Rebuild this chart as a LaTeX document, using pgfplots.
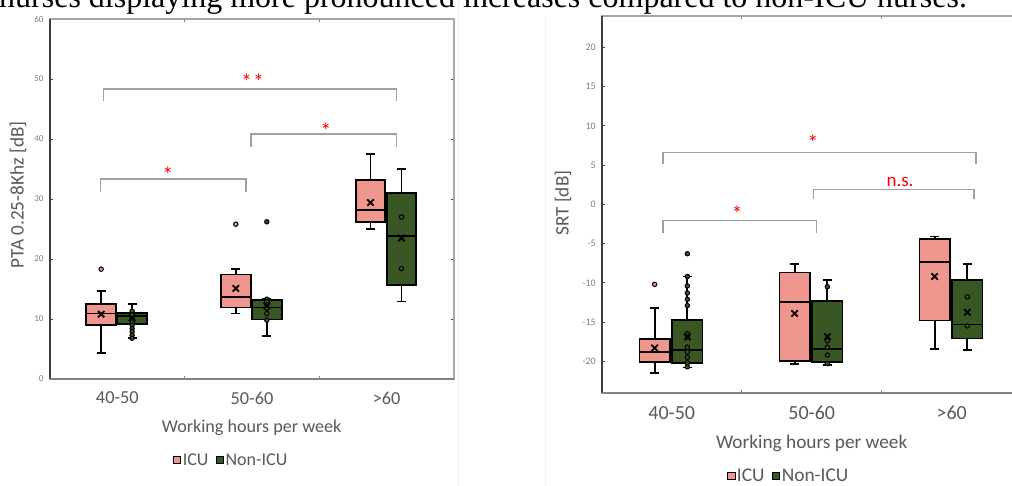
\documentclass[border=0pt]{standalone}
\usepackage{fontspec}
\setmainfont{Carlito}
\newfontfamily\bodyserif{Liberation Serif}
\usepackage{pgfplots}
\pgfplotsset{compat=1.18}

\definecolor{icu}{RGB}{239,150,142}
\definecolor{nonicu}{RGB}{56,87,35}
\definecolor{labelgray}{RGB}{89,89,89}
\definecolor{tickgray}{RGB}{128,128,128}
\definecolor{framegray}{RGB}{166,166,166}
\definecolor{bracketgray}{RGB}{160,160,160}
\definecolor{axisdark}{RGB}{64,64,64}
\definecolor{axismid}{RGB}{130,130,130}

\tikzset{bracket/.style={draw=bracketgray, line width=1.4pt}}
\pgfplotsset{
  boxline/.style={solid, draw=black, line width=1.8pt, mark=none, forget plot},
  icudots/.style={only marks, forget plot, mark=*, mark size=2.2pt,
    mark options={draw=black, fill=icu, line width=1pt}},
  nondots/.style={only marks, forget plot, mark=*, mark size=2.2pt,
    mark options={draw=black, fill=nonicu, line width=1pt}},
  meanx/.style={only marks, forget plot, mark=x, mark size=4.5pt,
    mark options={draw=black, line width=1.8pt}},
  sqlegend/.style={legend image code/.code={
    \draw[##1, line width=0.9pt] (0pt,-3.6pt) rectangle (7.2pt,3.6pt);}},
}

% one box: position, half width, lower whisker, lower quartile, median,
% upper quartile, upper whisker, fill colour
\newcommand{\drawbox}[8]{%
  \pgfmathsetmacro\bxl{#1-#2}%
  \pgfmathsetmacro\bxr{#1+#2}%
  \pgfmathsetmacro\cpl{#1-0.3*#2}%
  \pgfmathsetmacro\cpr{#1+0.3*#2}%
  \addplot[boxline] coordinates {(#1,#3) (#1,#4)};
  \addplot[boxline] coordinates {(#1,#6) (#1,#7)};
  \addplot[boxline] coordinates {(\cpl,#3) (\cpr,#3)};
  \addplot[boxline] coordinates {(\cpl,#7) (\cpr,#7)};
  \addplot[boxline, fill=#8] coordinates {(\bxl,#4) (\bxr,#4) (\bxr,#6) (\bxl,#6)} -- cycle;
  \addplot[boxline] coordinates {(\bxl,#5) (\bxr,#5)};
}

\begin{document}
\begin{tikzpicture}
\path[use as bounding box] (0pt,0pt) rectangle (1012pt,486pt);
\begin{scope}
\clip (0pt,0pt) rectangle (1012pt,486pt);
\fill[white] (0pt,0pt) rectangle (1012pt,486pt);
\draw[gray!12, line width=0.8pt] (458pt,0pt) -- (458pt,486pt);
\draw[gray!12, line width=0.8pt] (545pt,0pt) -- (545pt,470pt);

\node[anchor=base west, inner sep=0pt, font=\bodyserif\fontsize{32}{36}\selectfont]
  at (-1pt,478pt) {nurses displaying more pronounced increases compared to non-ICU nurses.};

% ---------------- left panel: PTA ----------------
\begin{axis}[
  at={(50pt,107pt)}, anchor=south west,
  scale only axis, width=404pt, height=360pt,
  xmin=-0.5, xmax=2.5, ymin=0, ymax=60,
  clip=false,
  axis line style={draw=framegray, line width=1.2pt},
  xtick={0,1,2}, xticklabels={40-50,50-60,>60},
  x tick style={draw=none},
  extra x ticks={0.5,1.5}, extra x tick labels={},
  extra x tick style={x tick style={draw=axismid, line width=0.8pt}},
  ytick={0,10,20,30,40,50,60},
  yticklabels={0,10,20,30,40,50,60},
  y tick style={draw=axisdark, line width=0.6pt},
  tick align=inside, major tick length=3pt,
  xticklabel style={font=\fontsize{18.3}{20}\selectfont, text=labelgray, anchor=center, yshift=-19pt},
  yticklabel style={font=\fontsize{9}{10}\selectfont, text=tickgray, xshift=-3pt},
  xlabel={Working hours per week},
  xlabel style={at={(axis description cs:0.499,-0.136)}, anchor=center,
    font=\fontsize{18.1}{20}\selectfont, text=labelgray},
  ylabel={PTA 0.25-8Khz [dB]},
  ylabel style={at={(axis description cs:-0.079,0.511)}, anchor=center,
    font=\fontsize{19.2}{21}\selectfont, text=labelgray},
  sqlegend,
  legend columns=2,
  legend style={at={(axis description cs:0.448,-0.225)}, anchor=center,
    draw=none, fill=none, font=\fontsize{18}{20}\selectfont, text=labelgray,
    /tikz/every even column/.append style={column sep=6pt},
    inner sep=0pt, nodes={inner sep=1.5pt}},
]
\addlegendimage{draw=black, fill=icu}
\addlegendentry{ICU}
\addlegendimage{draw=black, fill=nonicu}
\addlegendentry{Non-ICU}

% ICU boxes
\drawbox{-0.12}{0.11}{4.3}{9.0}{10.9}{12.5}{14.6}{icu}
\drawbox{0.88}{0.11}{10.9}{11.9}{13.6}{17.4}{18.3}{icu}
\drawbox{1.88}{0.11}{25.0}{26.2}{28.2}{33.1}{37.5}{icu}
% Non-ICU boxes
\drawbox{0.11}{0.11}{6.8}{9.2}{10.55}{11.0}{12.5}{nonicu}
\drawbox{1.11}{0.11}{7.1}{9.9}{11.9}{13.2}{13.3}{nonicu}
\drawbox{2.11}{0.11}{12.9}{15.7}{23.8}{31.0}{35.0}{nonicu}

% individual values and outliers
\addplot[icudots] coordinates {(-0.12,18.3) (0.88,25.8)};
\addplot[nondots] coordinates {
  (0.11,11.3) (0.11,10.7) (0.11,10.1) (0.11,9.5) (0.11,9.0) (0.11,8.4) (0.11,7.9) (0.11,7.3) (0.11,6.8)
  (1.11,26.2) (1.11,13.3) (1.11,12.9) (1.11,12.4) (1.11,11.8) (1.11,10.9) (1.11,9.8)
  (2.11,27.0) (2.11,18.4)};
% means
\addplot[meanx] coordinates {(-0.12,10.8) (0.88,15.1) (1.88,29.4) (0.11,10.2) (1.11,12.2) (2.11,23.5)};

% axis lines on the left and bottom
\draw[axisdark, line width=1.8pt] (rel axis cs:0,0) -- (rel axis cs:0,1);
\draw[axismid, line width=1.8pt] (rel axis cs:0,0) -- (rel axis cs:1,0);

% significance brackets
\draw[bracket] (axis cs:-0.104,46.4) -- (axis cs:-0.104,48.3) -- (axis cs:2.074,48.3) -- (axis cs:2.074,46.4);
\draw[bracket] (axis cs:0.992,38.7) -- (axis cs:0.992,40.8) -- (axis cs:2.074,40.8) -- (axis cs:2.074,38.7);
\draw[bracket] (axis cs:-0.124,31.2) -- (axis cs:-0.124,33.3) -- (axis cs:0.955,33.3) -- (axis cs:0.955,31.2);
\node[text=red, font=\fontsize{22}{24}\selectfont, inner sep=0pt] at (axis cs:1.005,49.6) {*\kern1pt*};
\node[text=red, font=\fontsize{22}{24}\selectfont, inner sep=0pt] at (axis cs:1.549,41.4) {*};
\node[text=red, font=\fontsize{22}{24}\selectfont, inner sep=0pt] at (axis cs:0.376,34.0) {*};
\end{axis}

% ---------------- right panel: SRT ----------------
\begin{axis}[
  at={(601.7pt,93.3pt)}, anchor=south west,
  scale only axis, width=420pt, height=376.8pt,
  xmin=-0.5, xmax=2.5, ymin=-24, ymax=24,
  clip=false,
  axis line style={draw=framegray, line width=1.8pt},
  xtick={0,1,2}, xticklabels={40-50,50-60,>60},
  x tick style={draw=none},
  extra x ticks={0.5,1.5}, extra x tick labels={},
  extra x tick style={x tick style={draw=axismid, line width=0.8pt}},
  ytick={-20,-15,-10,-5,0,5,10,15,20},
  yticklabels={-20,-15,-10,-5,0,5,10,15,20},
  y tick style={draw=axisdark, line width=0.8pt},
  tick align=inside, major tick length=3pt,
  xticklabel style={font=\fontsize{20}{22}\selectfont, text=labelgray, anchor=center, yshift=-20pt},
  yticklabel style={font=\fontsize{10}{11}\selectfont, text=tickgray, xshift=-2.5pt},
  xlabel={Working hours per week},
  xlabel style={at={(axis description cs:0.5,-0.134)}, anchor=center,
    font=\fontsize{19.3}{21}\selectfont, text=labelgray},
  ylabel={SRT [dB]},
  ylabel style={at={(axis description cs:-0.092,0.503)}, anchor=center,
    font=\fontsize{19.2}{21}\selectfont, text=labelgray},
  sqlegend,
  legend columns=2,
  legend style={at={(axis description cs:0.445,-0.222)}, anchor=center,
    draw=none, fill=none, font=\fontsize{19.4}{21}\selectfont, text=labelgray,
    /tikz/every even column/.append style={column sep=6pt},
    inner sep=0pt, nodes={inner sep=1.5pt}},
]
\addlegendimage{draw=black, fill=icu}
\addlegendentry{ICU}
\addlegendimage{draw=black, fill=nonicu}
\addlegendentry{Non-ICU}

% ICU boxes
\drawbox{-0.122}{0.1075}{-21.5}{-20.1}{-18.8}{-17.2}{-13.2}{icu}
\drawbox{0.878}{0.1075}{-20.3}{-20.0}{-12.4}{-8.7}{-7.6}{icu}
\drawbox{1.878}{0.1075}{-18.4}{-14.8}{-7.4}{-4.4}{-4.1}{icu}
% Non-ICU boxes
\drawbox{0.112}{0.1075}{-20.8}{-20.2}{-18.6}{-14.7}{-9.2}{nonicu}
\drawbox{1.112}{0.1075}{-20.5}{-20.1}{-18.4}{-12.3}{-9.6}{nonicu}
\drawbox{2.112}{0.1075}{-18.6}{-17.1}{-15.3}{-9.6}{-7.6}{nonicu}

% individual values and outliers
\addplot[icudots] coordinates {(-0.122,-10.2)};
\addplot[nondots] coordinates {
  (0.112,-6.3) (0.112,-9.2) (0.112,-10.4) (0.112,-11.3) (0.112,-12.1) (0.112,-12.9)
  (0.112,-16.5) (0.112,-16.9) (0.112,-18.2) (0.112,-18.8) (0.112,-19.5) (0.112,-20.2) (0.112,-20.7)
  (1.112,-10.5) (1.112,-17.4) (1.112,-18.2) (1.112,-19.2) (1.112,-20.3)
  (2.112,-11.8) (2.112,-15.5)};
% means
\addplot[meanx] coordinates {(-0.122,-18.3) (0.878,-13.9) (1.878,-9.2) (0.112,-16.9) (1.112,-16.85) (2.112,-13.75)};

% axis lines on the left and bottom
\draw[axisdark, line width=2.4pt] (rel axis cs:0,0) -- (rel axis cs:0,1);
\draw[axismid, line width=2pt] (rel axis cs:0,0) -- (rel axis cs:1,0);

% significance brackets
\draw[bracket] (axis cs:-0.062,5.1) -- (axis cs:-0.062,6.6) -- (axis cs:2.174,6.6) -- (axis cs:2.174,5.1);
\draw[bracket] (axis cs:1.011,0.7) -- (axis cs:1.011,1.9) -- (axis cs:2.159,1.9) -- (axis cs:2.159,0.7);
\draw[bracket] (axis cs:-0.062,-3.6) -- (axis cs:-0.062,-2.1) -- (axis cs:1.036,-2.1) -- (axis cs:1.036,-3.6);
\node[text=red, font=\fontsize{22}{24}\selectfont, inner sep=0pt] at (axis cs:1.009,7.8) {*};
\node[text=red, font=\fontsize{19}{21}\selectfont, inner sep=0pt] at (axis cs:1.631,2.9) {n.s.};
\node[text=red, font=\fontsize{22}{24}\selectfont, inner sep=0pt] at (axis cs:0.467,-1.2) {*};
\end{axis}
\end{scope}
\end{tikzpicture}
\end{document}
